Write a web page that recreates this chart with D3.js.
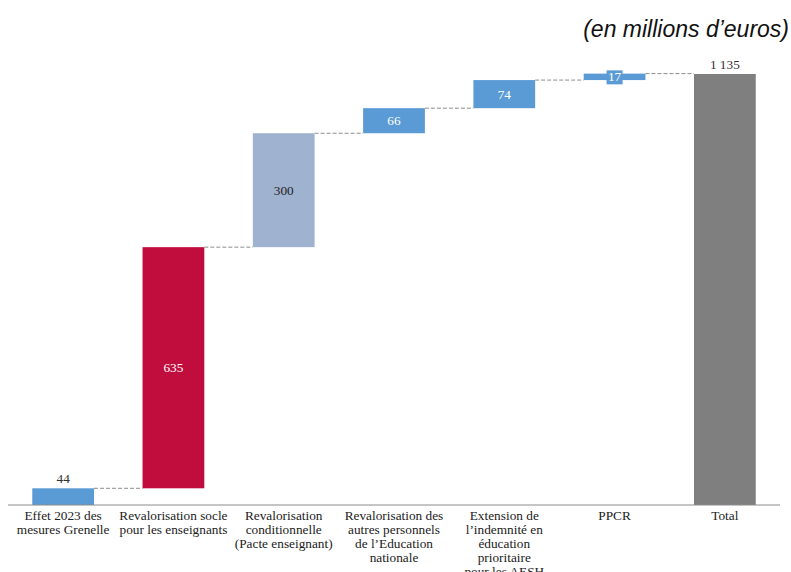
<!DOCTYPE html>
<html>
<head>
<meta charset="utf-8">
<script src="https://cdn.jsdelivr.net/npm/d3@7"></script>
<style>
  body { margin: 0; background: #fff; }
  .lbl { font-family: "Liberation Serif", "DejaVu Serif", serif; font-size: 13.3px; fill: #222; }
</style>
</head>
<body>
<div id="chart"></div>
<script>
// waterfall of the 2023 revaluation measures //
const width = 791;
const height = 572;

const categories = [
  ["Effet 2023 des", "mesures Grenelle"],
  ["Revalorisation socle", "pour les enseignants"],
  ["Revalorisation", "conditionnelle", "(Pacte enseignant)"],
  ["Revalorisation des", "autres personnels", "de l\u2019Education", "nationale"],
  ["Extension de", "l\u2019indemnit\u00e9 en", "\u00e9ducation", "prioritaire", "pour les AESH"],
  ["PPCR"],
  ["Total"]
];
const values = [44, 635, 300, 66, 74, 17, 1135];
const valueLabels = ["44", "635", "300", "66", "74", "17", "1 135"];
const colors = ["#5B9BD5", "#C00D3E", "#9FB2D0", "#5B9BD5", "#5B9BD5", "#5B9BD5", "#7F7F7F"];
const labelColors = ["#333", "#fff", "#222", "#fff", "#fff", "#fff", "#333"];

// running totals
let run = 0;
const steps = values.map((v, i) => {
  const last = i === values.length - 1;
  const start = last ? 0 : run;
  const end = last ? v : run + v;
  if (!last) run += v;
  return { i, v, start, end };
});

const svg = d3.select("#chart").append("svg")
  .attr("width", width)
  .attr("height", height);

const x = d3.scaleBand()
  .domain(d3.range(values.length))
  .range([8, 780])
  .paddingInner(0.44)
  .paddingOuter(0.22);

const y = d3.scaleLinear()
  .domain([0, 1135])
  .range([505, 74]);

// connectors
svg.selectAll(".conn")
  .data(steps.slice(0, -1))
  .enter()
  .append("line")
  .attr("x1", d => x(d.i) + x.bandwidth())
  .attr("x2", d => x(d.i + 1))
  .attr("y1", d => y(d.end))
  .attr("y2", d => y(d.end))
  .attr("stroke", "#8c8c8c")
  .attr("stroke-width", 1)
  .attr("stroke-dasharray", "4,2");

svg.selectAll(".bar")
  .data(steps)
  .enter()
  .append("rect")
  .attr("x", d => x(d.i))
  .attr("width", x.bandwidth())
  .attr("y", d => y(d.end))
  .attr("height", d => y(d.start) - y(d.end))
  .attr("fill", d => colors[d.i]);

// axis line
svg.append("line")
  .attr("x1", 8).attr("x2", 780)
  .attr("y1", 505).attr("y2", 505)
  .attr("stroke", "#8c8c8c")
  .attr("stroke-width", 1.2);

// value labels: small bars get label above, big ones inside
const outside = d => d.i === 0 || d.i === values.length - 1;
const labelY = d => outside(d) ? y(d.end) - 5 : (y(d.start) + y(d.end)) / 2 + 4.5;

// box behind the thin PPCR label
svg.selectAll(".lblbox")
  .data(steps.filter(d => d.i === 5))
  .enter()
  .append("rect")
  .attr("x", d => x(d.i) + x.bandwidth() / 2 - 8)
  .attr("y", d => labelY(d) - 11)
  .attr("width", 16)
  .attr("height", 14)
  .attr("fill", d => colors[d.i]);

svg.selectAll(".val")
  .data(steps)
  .enter()
  .append("text")
  .attr("class", "lbl")
  .attr("x", d => x(d.i) + x.bandwidth() / 2)
  .attr("y", labelY)
  .attr("text-anchor", "middle")
  .style("fill", d => labelColors[d.i])
  .text(d => valueLabels[d.i]);

// category labels (last line of the AESH one runs off the page, as in the original)
const cats = svg.selectAll(".cat")
  .data(categories)
  .enter()
  .append("text")
  .attr("class", "lbl")
  .attr("text-anchor", "middle")
  .attr("x", (d, i) => x(i) + x.bandwidth() / 2)
  .attr("y", 520);

cats.selectAll("tspan")
  .data(d => d)
  .enter()
  .append("tspan")
  .attr("x", function() { return d3.select(this.parentNode).attr("x"); })
  .attr("dy", (d, i) => i === 0 ? 0 : 14)
  .text(d => d);

svg.append("text")
  .attr("x", 789)
  .attr("y", 37)
  .attr("text-anchor", "end")
  .style("font-family", "Liberation Sans, Arial, sans-serif")
  .style("font-style", "italic")
  .style("font-size", "23px")
  .style("fill", "#111")
  .text("(en millions d\u2019euros)");
</script>
</body>
</html>
